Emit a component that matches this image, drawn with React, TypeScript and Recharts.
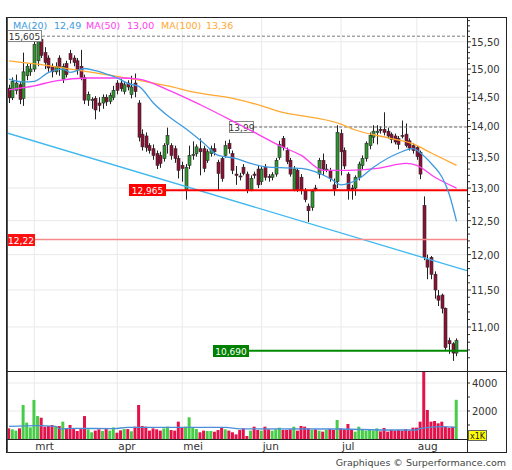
import React from "react";
import {
  ComposedChart,
  Bar,
  Line,
  XAxis,
  YAxis,
  ReferenceLine,
  CartesianGrid,
  Cell,
} from "recharts";

const FONT = "DejaVu Sans, Verdana, sans-serif";

// daily candles
const opens = [
  14.66, 14.49, 14.62, 14.72, 14.48, 14.88, 14.95, 15.0, 15.15, 15.55,
  15.3, 15.2, 15.05, 14.95, 15.2, 14.82, 15.1, 15.28, 15.2, 15.15,
  15.05, 14.85, 14.45, 14.45, 14.48, 14.4, 14.4, 14.5, 14.43, 14.5,
  14.75, 14.75, 14.6, 14.75, 14.55, 14.75, 14.4, 13.87, 13.84, 13.68,
  13.63, 13.55, 13.52, 13.47, 13.7, 13.68, 13.63, 13.47, 13.36, 12.97,
  13.36, 13.52, 13.55, 13.63, 13.63, 13.44, 13.55, 13.63, 13.41, 13.47,
  13.52, 13.72, 13.55, 13.22, 13.19, 13.33, 13.22, 12.97, 13.22, 13.3,
  13.1, 13.33, 13.18, 13.17, 13.22, 13.49, 13.8, 13.6, 13.44, 12.97,
  13.28, 13.17, 12.96, 12.72, 12.7, 13.0, 13.22, 13.44, 13.3, 13.28,
  13.05, 13.1, 13.88, 13.6, 13.22, 13.0, 13.0, 13.17, 13.36, 13.47,
  13.68, 13.82, 13.9, 13.95, 13.95, 13.92, 13.87, 13.84, 13.8, 13.85,
  13.87, 13.76, 13.68, 13.65, 13.57, 12.73, 11.93, 11.96, 11.72, 11.42,
  11.43, 11.25, 10.82, 10.78, 10.66,
];
const highs = [
  14.72, 14.85, 14.9, 14.78, 15.3, 15.1, 15.1, 15.5, 15.58, 15.605,
  15.4, 15.25, 15.1, 15.12, 15.25, 15.1, 15.15, 15.35, 15.25, 15.2,
  15.35, 14.9, 14.6, 14.5, 14.52, 14.5, 14.55, 14.55, 14.58, 14.7,
  14.8, 14.82, 14.78, 14.8, 14.88, 14.92, 14.45, 13.95, 13.9, 13.72,
  13.7, 13.6, 13.58, 13.72, 13.98, 13.72, 13.68, 13.52, 13.42, 13.38,
  13.68, 13.75, 13.7, 13.8, 13.68, 13.62, 13.68, 13.72, 13.45, 13.5,
  13.76, 13.78, 13.6, 13.35, 13.24, 13.38, 13.26, 13.2, 13.26, 13.36,
  13.34, 13.38, 13.22, 13.25, 13.48, 13.76, 13.84, 13.65, 13.48, 13.35,
  13.32, 13.22, 13.0, 12.76, 12.98, 13.05, 13.48, 13.55, 13.38, 13.32,
  13.15, 14.02, 13.95, 13.65, 13.25, 13.05, 13.2, 13.42, 13.52, 13.75,
  13.9, 14.02, 14.02, 14.0, 14.24, 13.98, 13.9, 13.88, 13.84, 14.1,
  14.05, 13.8, 13.72, 13.68, 13.6, 12.87, 12.0, 11.98, 11.76, 11.5,
  11.45, 11.26, 10.86, 10.8, 10.85,
];
const lows = [
  14.4, 14.45, 14.55, 14.38, 14.35, 14.8, 14.88, 14.95, 15.05, 15.2,
  15.0, 14.95, 14.85, 14.9, 14.88, 14.75, 14.85, 15.1, 15.05, 14.9,
  14.8, 14.38, 14.35, 14.3, 14.12, 14.25, 14.3, 14.35, 14.38, 14.45,
  14.55, 14.6, 14.55, 14.62, 14.48, 14.5, 13.75, 13.6, 13.58, 13.55,
  13.45, 13.3, 13.32, 13.42, 13.55, 13.45, 13.4, 13.15, 13.1, 12.82,
  13.3, 13.45, 13.5, 13.2, 13.25, 13.4, 13.5, 13.52, 12.97, 13.1,
  13.48, 13.55, 13.22, 13.05, 13.12, 13.2, 12.92, 12.95, 13.15, 13.0,
  13.05, 13.12, 13.1, 13.12, 13.18, 13.45, 13.6, 13.38, 13.18, 12.95,
  12.94, 12.9, 12.78, 12.48, 12.65, 12.95, 13.15, 13.2, 13.25, 13.1,
  12.88, 13.0, 13.2, 13.3, 12.82, 12.82, 12.88, 13.12, 13.3, 13.42,
  13.62, 13.72, 13.7, 13.88, 13.85, 13.8, 13.72, 13.7, 13.62, 13.8,
  13.65, 13.6, 13.55, 13.45, 13.14, 11.92, 11.65, 11.65, 11.38, 11.28,
  11.18, 10.7, 10.65, 10.56, 10.62,
];
const closes = [
  14.49, 14.78, 14.75, 14.46, 14.95, 15.05, 15.0, 15.45, 15.5, 15.25,
  15.12, 15.02, 14.95, 15.05, 15.02, 15.05, 14.9, 15.17, 15.12, 14.97,
  14.85, 14.45, 14.55, 14.46, 14.28, 14.36, 14.5, 14.42, 14.53, 14.62,
  14.62, 14.65, 14.72, 14.68, 14.68, 14.6, 13.82, 13.66, 13.65, 13.6,
  13.52, 13.36, 13.39, 13.68, 13.85, 13.52, 13.47, 13.28, 13.31, 13.33,
  13.52, 13.54, 13.66, 13.58, 13.31, 13.58, 13.63, 13.58, 13.23, 13.15,
  13.68, 13.63, 13.28, 13.2, 13.18, 13.23, 12.97, 13.15, 13.2, 13.05,
  13.3, 13.17, 13.17, 13.21, 13.44, 13.7, 13.65, 13.42, 13.22, 13.3,
  12.97, 12.96, 12.82, 12.65, 12.95, 12.98, 13.44, 13.3, 13.3, 13.15,
  12.97, 13.9, 13.58, 13.35, 12.97, 12.98, 13.17, 13.38, 13.47, 13.72,
  13.85, 13.92, 13.92, 13.93, 13.9, 13.84, 13.78, 13.74, 13.7, 13.84,
  13.68, 13.64, 13.6, 13.5, 13.22, 11.96, 11.82, 11.72, 11.5, 11.36,
  11.25, 10.73, 10.78, 10.66, 10.82,
];
// volume in thousands
const volumes = [
  760, 690, 600, 760, 2430, 1170, 830, 2790, 1640, 1520,
  880, 930, 1000, 930, 930, 1240, 760, 1000, 710, 570,
  710, 1640, 690, 480, 600, 690, 570, 710, 600, 830,
  450, 620, 710, 710, 550, 880, 2430, 930, 880, 600,
  760, 690, 600, 760, 880, 640, 600, 1240, 830, 880,
  1550, 810, 710, 480, 600, 570, 570, 520, 640, 790,
  690, 600, 480, 330, 640, 760, 214, 595, 880, 643,
  595, 880, 690, 595, 690, 810, 643, 643, 690, 880,
  595, 930, 880, 760, 643, 690, 595, 524, 643, 714,
  643, 1357, 760, 690, 1071, 643, 524, 880, 643, 595,
  643, 595, 760, 547, 785, 524, 643, 595, 643, 595,
  714, 595, 810, 810, 1238, 5200, 2070, 1238, 1285, 1119,
  1238, 880, 809, 880, 2800,
];

// moving averages read at sample candles: [candle, value]
const ma20Points: [number, number][] = [
  [0, 14.82], [4, 14.77], [7, 14.78], [11, 14.94], [15, 15.0], [17, 14.94],
  [21, 15.01], [24, 14.97], [27, 14.91], [30, 14.84], [33, 14.74], [36, 14.69],
  [40, 14.4], [44, 14.18], [49, 13.96], [54, 13.72], [58, 13.52], [63, 13.47],
  [67, 13.39], [72, 13.33], [81, 13.31], [89, 13.15], [92, 13.05], [97, 13.15],
  [101, 13.33], [108, 13.56], [112, 13.63], [114, 13.56], [117, 13.39],
  [120, 13.17], [122, 12.9], [124, 12.49],
];
const ma50Points: [number, number][] = [
  [0, 14.63], [7, 14.7], [13, 14.79], [22, 14.84], [31, 14.84], [36, 14.82],
  [44, 14.63], [53, 14.37], [62, 14.09], [68, 13.9], [75, 13.68], [81, 13.52],
  [87, 13.28], [94, 13.28], [102, 13.31], [110, 13.39], [113, 13.36],
  [118, 13.17], [124, 13.0],
];
const ma100Points: [number, number][] = [
  [0, 15.15], [9, 15.08], [19, 14.98], [36, 14.8], [44, 14.7], [52, 14.58],
  [62, 14.48], [70, 14.35], [74, 14.27], [92, 14.04], [96, 13.94], [105, 13.81],
  [112, 13.71], [117, 13.56], [124, 13.36],
];
const volAvgPoints: [number, number][] = [
  [0, 900], [8, 950], [13, 900], [14, 720], [18, 760], [29, 740], [33, 830],
  [60, 830], [64, 720], [91, 714], [105, 643], [113, 643], [114, 760],
  [120, 880], [124, 810],
];

const months = ["mrt", "apr", "mei", "jun", "jul", "aug"];
const monthStarts = [7, 30, 48, 70, 92, 113];
const priceTicks = [11, 11.5, 12, 12.5, 13, 13.5, 14, 14.5, 15, 15.5];
const volumeTicks = [2000, 4000];
const volumeMinorTicks = [1000, 3000];

const legendItems = [
  { name: "MA(20)", value: "12,49" },
  { name: "MA(50)", value: "13,00" },
  { name: "MA(100)", value: "13,36" },
];

// horizontal levels: value, tag text, candle where the line starts
const levels = [
  { value: 15.605, text: "15,605", from: -0.55 },
  { value: 13.99, text: "13,99", from: 61 },
  { value: 12.965, text: "12,965", from: 33.3 },
  { value: 12.22, text: "12,22", from: -0.55 },
  { value: 10.69, text: "10,690", from: 56.5 },
];
const trendline = [13.89, 11.77];

const X_DOMAIN: [number, number] = [-0.55, 126.9];
const PRICE_DOMAIN: [number, number] = [10.42, 15.95];
const VOL_DOMAIN: [number, number] = [0, 4786];

const MA_COLORS = ["#3d9ae0", "#ff3cf0", "#ffa930"];
const LEVEL_STYLE = [
  { line: "#777", width: 1, dash: "3 2", box: "#fff", boxStroke: "#888", text: "#333", w: 34 },
  { line: "#666", width: 1, dash: "3 2", box: "#fff", boxStroke: "#888", text: "#333", w: 24 },
  { line: "#ff0000", width: 2, dash: undefined, box: "#ff0000", boxStroke: "#ff0000", text: "#fff", w: 36 },
  { line: "#f58a8a", width: 1.5, dash: undefined, box: "#ff1010", boxStroke: "#ff1010", text: "#fff", w: 27 },
  { line: "#008a00", width: 2, dash: undefined, box: "#008000", boxStroke: "#008000", text: "#fff", w: 35 },
];

const m20 = new Map(ma20Points);
const m50 = new Map(ma50Points);
const m100 = new Map(ma100Points);
const mv = new Map(volAvgPoints);

const rows = closes.map((c, i) => ({
  i,
  o: opens[i],
  h: highs[i],
  l: lows[i],
  c,
  v: volumes[i],
  ma20: m20.get(i) ?? null,
  ma50: m50.get(i) ?? null,
  ma100: m100.get(i) ?? null,
  va: mv.get(i) ?? null,
}));

const minorPriceTicks: number[] = [];
for (let k = 106; k <= 159; k++) minorPriceTicks.push(k / 10);

const fmt = (v: number) => v.toFixed(2).replace(".", ",");

const Candle = (props: any) => {
  const { x, y, width, height, payload } = props;
  const { o, h, l, c } = payload;
  const cx = Math.round(x + width / 2);
  const lh = Math.log(h);
  const span = lh - Math.log(l);
  const py = (p: number) => (span > 0 ? y + ((lh - Math.log(p)) / span) * height : y);
  const top = py(Math.max(o, c));
  const bot = py(Math.min(o, c));
  const up = c >= o;
  return (
    <g>
      <line x1={cx + 0.5} x2={cx + 0.5} y1={y} y2={y + height} stroke="#222" strokeWidth={1} />
      <rect
        x={cx - 1}
        y={top}
        width={3}
        height={Math.max(1, bot - top)}
        fill={up ? "#2f962f" : "#8e0f35"}
        stroke="#2a2a2a"
        strokeWidth={0.6}
      />
    </g>
  );
};

const PriceTick = (props: any) => {
  const { x, y, payload } = props;
  const v = payload.value as number;
  const major = Math.round(v * 10) % 5 === 0;
  return (
    <g>
      <line x1={x} x2={x + (major ? 4 : 3)} y1={y} y2={y} stroke="#333" />
      {major && (
        <text x={x + 4} y={y + 4} fontSize={10} fill="#333" fontFamily={FONT}>
          {fmt(v)}
        </text>
      )}
    </g>
  );
};

const VolTick = (props: any) => {
  const { x, y, payload } = props;
  const v = payload.value as number;
  const major = volumeTicks.includes(v);
  return (
    <g>
      <line x1={x} x2={x + 3} y1={y} y2={y} stroke="#333" />
      {major && (
        <text x={x + 5} y={y + 4} fontSize={10} fill="#333" fontFamily={FONT}>
          {v}
        </text>
      )}
    </g>
  );
};

const MonthTick = (props: any) => {
  const { x, y, payload } = props;
  const k = monthStarts.indexOf(payload.value);
  return (
    <text x={x + 1} y={y + 11} fontSize={10.5} fill="#333" fontFamily={FONT}>
      {months[k]}
    </text>
  );
};

const levelTag = (text: string, s: (typeof LEVEL_STYLE)[number]) => (props: any) => {
  const vb = props.viewBox || {};
  const x = Math.round(vb.x ?? 0);
  const y = Math.round(vb.y ?? 0);
  return (
    <g>
      <rect x={x + 0.5} y={y - 5.5} width={s.w} height={11} fill={s.box} stroke={s.boxStroke} />
      <text
        x={x + 0.5 + s.w / 2}
        y={y + 3.5}
        textAnchor="middle"
        fontSize={9}
        fill={s.text}
        fontFamily={FONT}
      >
        {text}
      </text>
    </g>
  );
};

export default function App() {
  return (
    <div
      style={{
        position: "absolute",
        left: 0,
        top: 0,
        width: 512,
        height: 470,
        background: "#fff",
        fontFamily: FONT,
      }}
    >
      <div style={{ position: "absolute", left: 7, top: 18 }}>
        <ComposedChart
          width={500}
          height={354}
          data={rows}
          margin={{ top: 0, right: 0, bottom: 0, left: 0 }}
        >
          <CartesianGrid
            stroke="#e9e9e9"
            horizontalValues={priceTicks}
            verticalValues={monthStarts}
          />
          <XAxis dataKey="i" type="number" domain={X_DOMAIN} allowDataOverflow hide />
          <YAxis
            orientation="right"
            width={40}
            scale="log"
            domain={PRICE_DOMAIN}
            allowDataOverflow
            ticks={minorPriceTicks}
            interval={0}
            tick={<PriceTick />}
            tickSize={0}
            tickMargin={0}
            tickLine={false}
            axisLine={false}
          />
          <ReferenceLine
            segment={[
              { x: X_DOMAIN[0], y: trendline[0] },
              { x: X_DOMAIN[1], y: trendline[1] },
            ]}
            stroke="#40b8f0"
            strokeWidth={1.3}
          />
          {levels.map((lv, k) => {
            const s = LEVEL_STYLE[k];
            return (
              <ReferenceLine
                key={lv.text}
                segment={[
                  { x: lv.from, y: lv.value },
                  { x: X_DOMAIN[1], y: lv.value },
                ]}
                stroke={s.line}
                strokeWidth={s.width}
                strokeDasharray={s.dash}
                label={levelTag(lv.text, s)}
              />
            );
          })}
          <Bar
            dataKey={(d: any) => [d.l, d.h]}
            barSize={3}
            shape={<Candle />}
            isAnimationActive={false}
          />
          <Line dataKey="ma100" stroke={MA_COLORS[2]} strokeWidth={1.3} dot={false} connectNulls type="monotone" isAnimationActive={false} />
          <Line dataKey="ma50" stroke={MA_COLORS[1]} strokeWidth={1.3} dot={false} connectNulls type="monotone" isAnimationActive={false} />
          <Line dataKey="ma20" stroke={MA_COLORS[0]} strokeWidth={1.3} dot={false} connectNulls type="monotone" isAnimationActive={false} />
        </ComposedChart>
      </div>

      <div style={{ position: "absolute", left: 7, top: 372 }}>
        <ComposedChart
          width={500}
          height={81}
          data={rows}
          margin={{ top: 0, right: 0, bottom: 0, left: 0 }}
        >
          <CartesianGrid
            stroke="#e9e9e9"
            horizontalValues={volumeTicks}
            verticalValues={monthStarts}
          />
          <XAxis
            dataKey="i"
            type="number"
            domain={X_DOMAIN}
            allowDataOverflow
            ticks={monthStarts}
            interval={0}
            height={14}
            tick={<MonthTick />}
            tickSize={0}
            tickMargin={0}
            tickLine={false}
            axisLine={false}
          />
          <YAxis
            orientation="right"
            width={40}
            domain={VOL_DOMAIN}
            allowDataOverflow
            ticks={[...volumeMinorTicks, ...volumeTicks].sort((a, b) => a - b)}
            interval={0}
            tick={<VolTick />}
            tickSize={0}
            tickMargin={0}
            tickLine={false}
            axisLine={false}
          />
          <Bar dataKey="v" barSize={3} isAnimationActive={false}>
            {rows.map((r) => (
              <Cell key={r.i} fill={r.c >= r.o ? "#48cc48" : "#e3124a"} />
            ))}
          </Bar>
          <Line dataKey="va" stroke="#4a8fd8" strokeWidth={1.3} dot={false} connectNulls type="monotone" isAnimationActive={false} />
        </ComposedChart>
      </div>

      <svg
        width={512}
        height={470}
        style={{ position: "absolute", left: 0, top: 0, pointerEvents: "none" }}
      >
        <rect x={6.5} y={17.5} width={500} height={435} fill="none" stroke="#222" />
        <line x1={7.5} x2={7.5} y1={17.5} y2={452.5} stroke="#555" />
        <line x1={467.5} x2={467.5} y1={17.5} y2={452.5} stroke="#222" />
        <line x1={6.5} x2={506.5} y1={371.5} y2={371.5} stroke="#222" />
        <line x1={6.5} x2={467.5} y1={439.5} y2={439.5} stroke="#222" />

        <text y={29} fontSize={9.5} fontFamily={FONT}>
          {legendItems.map((it, k) => (
            <React.Fragment key={it.name}>
              <tspan x={[13, 86, 161][k]} fill={MA_COLORS[k]}>
                {it.name}
              </tspan>
              <tspan x={[54, 127, 206][k]} fill={MA_COLORS[k]}>
                {it.value}
              </tspan>
            </React.Fragment>
          ))}
        </text>

        <rect x={468.5} y={430.5} width={18} height={10} fill="#ffff00" stroke="#666" />
        <text x={477.5} y={438.5} textAnchor="middle" fontSize={8} fill="#222" fontFamily={FONT}>
          x1K
        </text>

        <text x={506} y={466} textAnchor="end" fontSize={9.5} fill="#444" fontFamily={FONT}>
          Graphiques © Surperformance.com
        </text>
      </svg>
    </div>
  );
}
